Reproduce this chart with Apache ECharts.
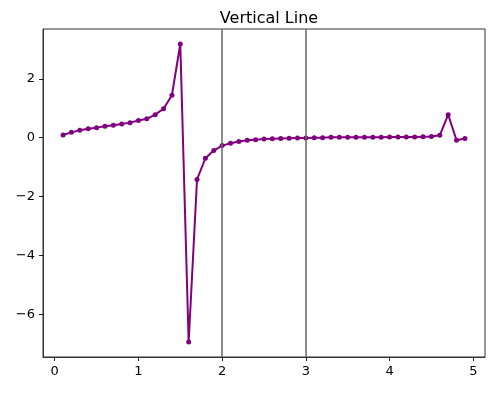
<!DOCTYPE html>
<html>
<head>
<meta charset="utf-8">
<script src="https://cdn.jsdelivr.net/npm/echarts@6/dist/echarts.min.js"></script>
<style>
  html, body { margin: 0; padding: 0; background: #fff; }
  #chart { width: 500px; height: 399px; }
</style>
</head>
<body>
<div id="chart"></div>
<script>
// x values 0.1 .. 4.9
const xValues = [0.1, 0.2, 0.3, 0.4, 0.5, 0.6, 0.7, 0.8, 0.9, 1.0,
  1.1, 1.2, 1.3, 1.4, 1.5, 1.6, 1.7, 1.8, 1.9, 2.0,
  2.1, 2.2, 2.3, 2.4, 2.5, 2.6, 2.7, 2.8, 2.9, 3.0,
  3.1, 3.2, 3.3, 3.4, 3.5, 3.6, 3.7, 3.8, 3.9, 4.0,
  4.1, 4.2, 4.3, 4.4, 4.5, 4.6, 4.7, 4.8, 4.9]
const yValues = [0.09, 0.18, 0.25, 0.30, 0.34, 0.39, 0.42, 0.46, 0.51, 0.58,
  0.64, 0.78, 0.98, 1.44, 3.18, -6.94, -1.42, -0.70, -0.44, -0.27,
  -0.19, -0.13, -0.09, -0.07, -0.05, -0.04, -0.03, -0.02, -0.01, -0.01,
  0.00, 0.00, 0.01, 0.01, 0.01, 0.01, 0.01, 0.01, 0.01, 0.02,
  0.02, 0.02, 0.02, 0.03, 0.04, 0.08, 0.78, -0.09, -0.03]
// vertical reference lines
const vLines = [2, 3]
const xTicks = [0, 1, 2, 3, 4, 5]
const yTicks = [-6, -4, -2, 0, 2]

const chart = echarts.init(document.getElementById('chart'), null, { renderer: 'canvas' })

const axisCommon = {
  type: 'value',
  splitLine: { show: false },
  axisLine: { show: true, onZero: false, lineStyle: { color: '#333', width: 1 } },
  axisTick: { show: true, length: 4, lineStyle: { color: '#222', width: 1 } },
  axisLabel: { color: '#000', fontSize: 13, fontFamily: 'DejaVu Sans' }
}

chart.setOption({
  animation: false,
  title: {
    text: 'Vertical Line',
    left: 264,
    top: 6,
    textAlign: 'center',
    textStyle: { fontSize: 16, fontWeight: 'normal', color: '#000', fontFamily: 'DejaVu Sans' }
  },
  grid: {
    left: 43, right: 15, top: 29, bottom: 42,
    show: true, borderColor: '#333', borderWidth: 1, backgroundColor: '#fff'
  },
  xAxis: Object.assign({}, axisCommon, {
    min: -0.14, max: 5.14,
    axisTick: Object.assign({}, axisCommon.axisTick, { customValues: xTicks }),
    axisLabel: Object.assign({}, axisCommon.axisLabel, { customValues: xTicks, margin: 8 })
  }),
  yAxis: Object.assign({}, axisCommon, {
    min: -7.45, max: 3.69,
    axisTick: Object.assign({}, axisCommon.axisTick, { customValues: yTicks }),
    axisLabel: Object.assign({}, axisCommon.axisLabel, {
      customValues: yTicks, margin: 8,
      formatter: v => (v < 0 ? '\u2212' + Math.abs(v) : String(v))
    })
  }),
  series: [{
    type: 'line',
    data: xValues.map((x, i) => [x, yValues[i]]),
    symbol: 'circle',
    symbolSize: 5,
    showAllSymbol: true,
    lineStyle: { color: '#800080', width: 2 },
    itemStyle: { color: '#800080' },
    markLine: {
      silent: true,
      symbol: 'none',
      label: { show: false },
      lineStyle: { color: '#666', width: 1.5, type: 'solid' },
      data: vLines.map(v => ({ xAxis: v }))
    },
    z: 3
  }]
})
</script>
</body>
</html>
